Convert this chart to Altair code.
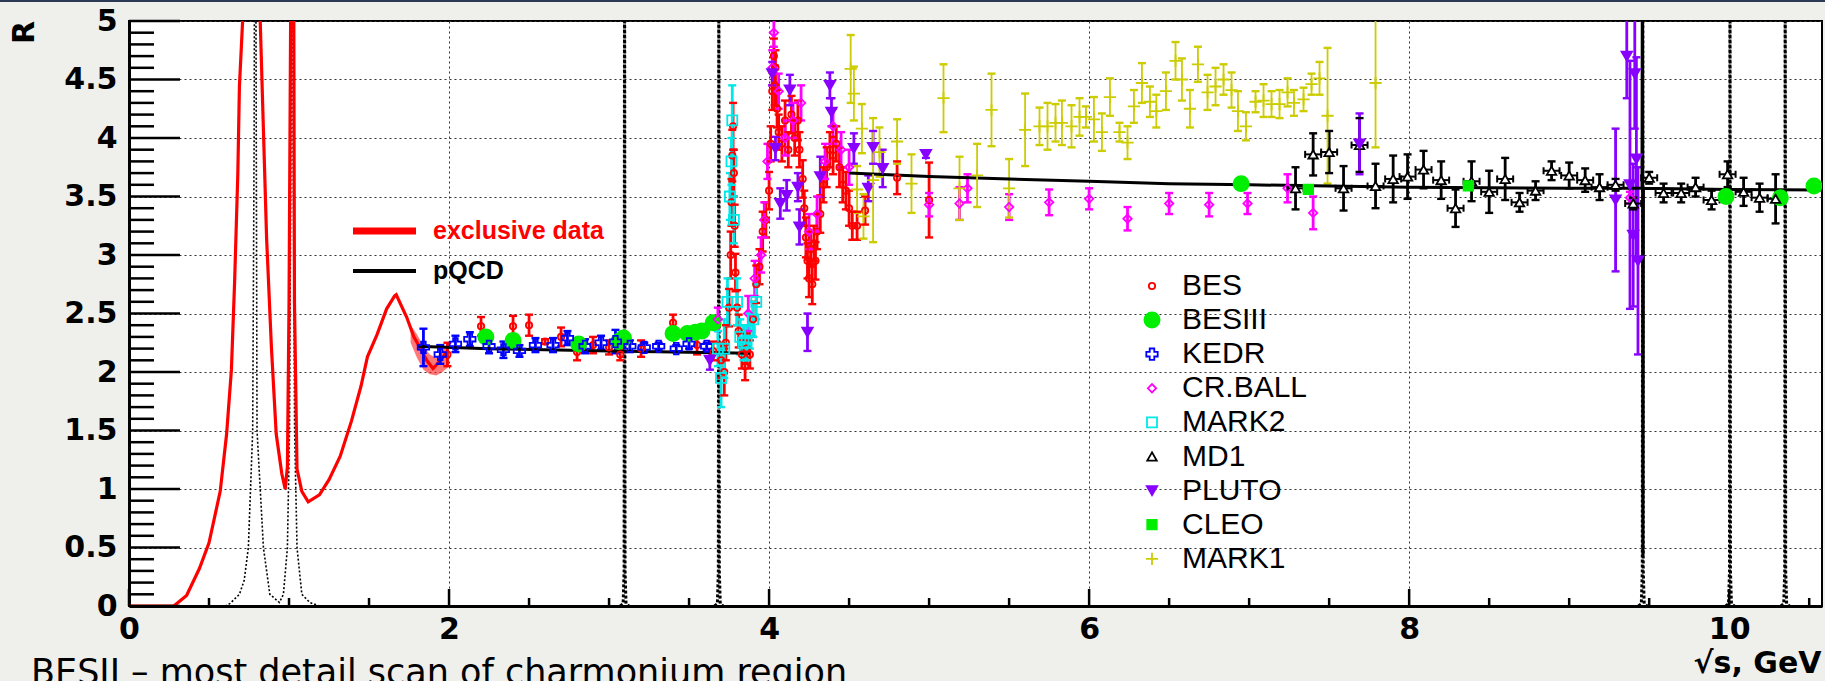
import altair as alt
import pandas as pd

# ---------------- exclusive data curve (red) ----------------
excl_x = [0.00, 0.28, 0.36, 0.44, 0.50, 0.57, 0.61, 0.64, 0.66, 0.68, 0.69, 0.71, 0.74, 0.78, 0.82, 0.84, 0.86, 0.89, 0.92, 0.955,
          0.976, 0.99, 1.00, 1.01, 1.019, 1.03, 1.034, 1.05, 1.08, 1.12, 1.19, 1.25, 1.32, 1.39, 1.45, 1.49, 1.55, 1.61, 1.66, 1.67,
          1.735, 1.78, 1.81, 1.86, 1.90, 1.94, 1.98]
excl_R = [0.00, 0.00, 0.09, 0.32, 0.54, 0.98, 1.47, 2.02, 2.77, 3.69, 4.44, 5.00, 6.50, 7.00, 5.00, 4.07, 3.14, 2.21, 1.47, 1.13,
          1.00, 1.19, 2.58, 5.00, 8.00, 5.00, 2.60, 1.17, 0.98, 0.89, 0.95, 1.08, 1.28, 1.58, 1.88, 2.13, 2.32, 2.54, 2.65, 2.66,
          2.47, 2.30, 2.23, 2.10, 2.03, 2.09, 2.16]
band_x = [1.76, 1.80, 1.84, 1.88, 1.92, 1.96, 2.00]
band_lo = [2.25, 2.12, 2.02, 1.98, 1.97, 2.00, 2.05]
band_hi = [2.40, 2.32, 2.22, 2.15, 2.12, 2.18, 2.25]

# ---------------- resonance curves (black dotted) ----------------
lowmass_x = [0.60, 0.63, 0.69, 0.72, 0.746, 0.773, 0.782, 0.788, 0.800, 0.840, 0.880, 0.940, 0.965, 0.990, 1.003, 1.012,
             1.019, 1.026, 1.035, 1.050, 1.080, 1.130, 1.190]
lowmass_R = [0.00, 0.02, 0.10, 0.22, 0.50, 1.50, 4.00, 8.00, 1.50, 0.50, 0.10, 0.03, 0.10, 0.50, 1.50, 4.00,
             8.00, 4.00, 1.50, 0.50, 0.10, 0.03, 0.00]
jpsi_x = [3.070, 3.088, 3.094, 3.097, 3.100, 3.106, 3.124]
psi2_x = [3.659, 3.677, 3.683, 3.686, 3.689, 3.695, 3.713]
ups1_x = [9.433, 9.451, 9.457, 9.460, 9.463, 9.469, 9.487]
ups2_x = [9.978, 9.996, 10.002, 10.005, 10.008, 10.014, 10.032]
ups3_x = [10.323, 10.341, 10.347, 10.350, 10.353, 10.359, 10.377]
spike_R = [0.00, 0.02, 0.30, 6.00, 0.30, 0.02, 0.00]

# ---------------- pQCD (black solid) ----------------
pq_lo_x = [1.80, 2.20, 2.60, 3.00, 3.40, 3.88]
pq_lo_R = [2.22, 2.20, 2.19, 2.18, 2.17, 2.16]
pq_hi_x = [4.50, 5.00, 5.50, 6.00, 6.50, 7.00, 7.50, 8.00, 8.50, 9.00, 9.455, 9.458, 9.461, 9.464, 10.00, 10.58]
pq_hi_R = [3.70, 3.67, 3.65, 3.63, 3.61, 3.60, 3.59, 3.58, 3.575, 3.57, 3.57, 6.00, 0.43, 3.57, 3.56, 3.555]

# ---------------- experiments ----------------
BES_x = [1.99, 2.20, 2.40, 2.50, 2.60, 2.70, 2.80, 2.90, 3.00, 3.07, 3.20, 3.40, 3.55, 3.65,
         3.70, 3.72, 3.73, 3.75, 3.76, 3.765, 3.77, 3.775, 3.78, 3.785,
         3.79, 3.80, 3.81, 3.83, 3.85, 3.86, 3.88,
         3.90, 3.92, 3.94, 3.96, 3.98, 4.00, 4.01,
         4.02, 4.03, 4.035, 4.04, 4.05, 4.06,
         4.08, 4.10, 4.12, 4.14, 4.16, 4.18, 4.19,
         4.21, 4.22, 4.23,
         4.24, 4.25, 4.26, 4.27, 4.28, 4.29, 4.30,
         4.32, 4.34, 4.36, 4.38, 4.40, 4.42,
         4.44, 4.46, 4.48, 4.50,
         4.52, 4.55, 4.60, 4.80, 5.00]
BES_R = [2.15, 2.39, 2.39, 2.40, 2.26, 2.30, 2.17, 2.23, 2.21, 2.15, 2.20, 2.42, 2.23, 2.18,
         2.10, 2.00, 2.25, 2.55, 3.00, 3.45, 3.85, 4.10, 3.70, 3.25,
         2.85, 2.55, 2.35, 2.15, 2.05, 2.20, 2.15,
         2.45, 2.75, 2.90, 3.20, 3.30, 3.55, 3.95,
         4.40, 4.70, 4.45, 4.60, 4.25, 4.05,
         3.95, 4.15, 3.90, 4.20, 4.00, 4.15, 3.90,
         3.65, 3.40, 3.15,
         2.95, 2.80, 3.05, 2.75, 3.10, 2.95, 3.20,
         3.35, 3.60, 3.75, 3.90, 3.85, 3.95,
         3.75, 3.60, 3.55, 3.40,
         3.25, 3.25, 3.38, 3.66, 3.47]
BES_e = [0.10, 0.08, 0.09, 0.09, 0.02, 0.08, 0.07, 0.07, 0.06, 0.05, 0.07, 0.07, 0.08, 0.08,
         0.15, 0.20, 0.15, 0.16, 0.20, 0.20, 0.22, 0.20, 0.20, 0.18,
         0.16, 0.15, 0.14, 0.12, 0.12, 0.13, 0.12,
         0.15, 0.16, 0.15, 0.17, 0.15, 0.16, 0.15,
         0.16, 0.15, 0.17, 0.15, 0.16, 0.15,
         0.15, 0.17, 0.15, 0.16, 0.15, 0.17, 0.15,
         0.16, 0.15, 0.17,
         0.15, 0.16, 0.15, 0.17, 0.15, 0.16, 0.15,
         0.16, 0.15, 0.17, 0.15, 0.16, 0.15,
         0.17, 0.15, 0.16, 0.15,
         0.12, 0.12, 0.12, 0.14, 0.32]
BESIII_x = [2.23, 2.40, 2.81, 3.06, 3.09, 3.40, 3.49, 3.54, 3.58, 3.65, 6.95, 9.98, 10.32, 10.53]
BESIII_R = [2.30, 2.27, 2.24, 2.26, 2.29, 2.33, 2.33, 2.34, 2.35, 2.42, 3.61, 3.50, 3.49, 3.59]
BESIII_e = [0.00, 0.00, 0.00, 0.00, 0.00, 0.00, 0.00, 0.00, 0.00, 0.00, 0.00, 0.00, 0.00, 0.00]
KEDR_x = [1.84, 1.945, 2.04, 2.13, 2.25, 2.34, 2.44, 2.54, 2.65, 2.74, 2.85, 2.95, 3.04, 3.13, 3.22, 3.31, 3.42, 3.50, 3.61]
KEDR_R = [2.21, 2.15, 2.24, 2.28, 2.22, 2.19, 2.18, 2.23, 2.23, 2.29, 2.22, 2.25, 2.26, 2.22, 2.21, 2.22, 2.20, 2.24, 2.22]
KEDR_e = [0.16, 0.08, 0.07, 0.06, 0.06, 0.07, 0.05, 0.06, 0.06, 0.06, 0.06, 0.06, 0.10, 0.05, 0.04, 0.03, 0.03, 0.04, 0.03]
CRB_x = [3.68, 3.87, 3.91, 3.95, 3.97, 3.99, 4.02, 4.03, 4.06, 4.10, 4.15, 4.20, 4.25, 4.30, 4.35, 4.40, 4.45, 4.50,
         5.00, 5.19, 5.24, 5.50, 5.75, 6.00, 6.24, 6.50, 6.75, 6.99, 7.24, 7.40, 9.38]
CRB_R = [2.45, 2.50, 2.80, 3.00, 3.30, 3.80, 4.60, 4.90, 4.40, 4.00, 4.15, 4.30, 3.20, 3.35, 3.80, 4.10, 3.90, 3.75,
         3.43, 3.44, 3.57, 3.41, 3.45, 3.48, 3.31, 3.44, 3.43, 3.44, 3.57, 3.36, 3.49]
CRB_e = [0.10, 0.15, 0.15, 0.15, 0.15, 0.15, 0.15, 0.12, 0.15, 0.15, 0.15, 0.15, 0.15, 0.15, 0.15, 0.15, 0.15, 0.15,
         0.10, 0.14, 0.12, 0.11, 0.11, 0.09, 0.10, 0.09, 0.10, 0.09, 0.12, 0.14, 0.05]
MARK2_x = [3.68, 3.70, 3.72, 3.74, 3.755, 3.765, 3.77, 3.78, 3.80, 3.82, 3.84, 3.86, 3.88, 3.90, 3.92]
MARK2_R = [2.20, 1.95, 2.20, 2.60, 3.50, 3.80, 4.15, 3.30, 2.60, 2.30, 2.25, 2.25, 2.35, 2.45, 2.60]
MARK2_e = [0.15, 0.25, 0.25, 0.20, 0.20, 0.20, 0.30, 0.20, 0.20, 0.15, 0.15, 0.15, 0.15, 0.15, 0.15]
MD1_x = [7.29, 7.40, 7.50, 7.59, 7.69, 7.79, 7.90, 7.99, 8.09, 8.20, 8.29, 8.39, 8.50, 8.60, 8.69, 8.79, 8.89, 9.00,
         9.10, 9.19, 9.29, 9.40, 9.50, 9.59, 9.70, 9.79, 9.89, 9.99, 10.09, 10.19, 10.29]
MD1_R = [3.57, 3.86, 3.88, 3.57, 3.94, 3.59, 3.65, 3.67, 3.73, 3.64, 3.40, 3.63, 3.54, 3.65, 3.45, 3.55, 3.72, 3.68,
         3.64, 3.58, 3.60, 3.44, 3.66, 3.53, 3.53, 3.58, 3.47, 3.69, 3.54, 3.49, 3.48]
MD1_e = [0.18, 0.18, 0.18, 0.19, 0.23, 0.19, 0.20, 0.19, 0.16, 0.16, 0.16, 0.17, 0.18, 0.18, 0.08, 0.08, 0.08, 0.11,
         0.10, 0.11, 0.05, 0.05, 0.05, 0.08, 0.08, 0.08, 0.08, 0.11, 0.12, 0.12, 0.21]
PLUTO_x = [3.63, 4.02, 4.04, 4.07, 4.11, 4.13, 4.18, 4.19, 4.24, 4.32, 4.38, 4.39, 4.53, 4.62, 4.65, 4.71, 4.98, 7.69,
           9.29, 9.36, 9.38, 9.40, 9.41, 9.42, 9.43]
PLUTO_R = [2.10, 4.55, 3.91, 3.44, 3.51, 4.41, 3.58, 3.24, 2.34, 3.67, 4.45, 4.22, 3.91, 3.57, 3.92, 3.74, 3.86, 3.95,
           3.47, 4.70, 3.60, 3.17, 4.55, 3.82, 2.95]
PLUTO_e = [0.08, 0.10, 0.10, 0.13, 0.13, 0.13, 0.12, 0.15, 0.16, 0.17, 0.11, 0.12, 0.13, 0.11, 0.14, 0.16, 0.03, 0.26,
           0.61, 0.36, 1.06, 0.61, 0.47, 0.87, 0.80]
CLEO_x = [7.37, 8.37]
CLEO_R = [3.56, 3.59]
CLEO_e = [0.00, 0.00]
MARK1_x = [4.51, 4.53, 4.55, 4.58, 4.59, 4.65, 4.69, 4.80, 4.89, 5.09, 5.19, 5.30, 5.39, 5.50,
           5.60, 5.69, 5.74, 5.79, 5.83, 5.89, 5.94, 5.98, 6.03, 6.08, 6.13, 6.19, 6.24, 6.28, 6.33, 6.38, 6.42, 6.48,
           6.54, 6.58, 6.63, 6.68, 6.74, 6.79, 6.84, 6.89, 6.93, 6.98, 7.04, 7.09, 7.14, 7.19, 7.24, 7.28, 7.34, 7.39,
           7.44, 7.49, 7.79]
MARK1_R = [4.59, 4.38, 3.56, 4.08, 3.33, 3.64, 3.88, 3.97, 3.61, 4.34, 3.57, 3.68, 4.24, 3.57,
           4.07, 4.10, 4.10, 4.13, 4.13, 4.10, 4.18, 4.18, 4.16, 4.05, 4.35, 4.05, 3.96, 4.27, 4.47, 4.31, 4.23, 4.40,
           4.66, 4.50, 4.25, 4.63, 4.39, 4.44, 4.50, 4.41, 4.23, 4.10, 4.31, 4.32, 4.29, 4.29, 4.39, 4.30, 4.33, 4.46,
           4.51, 4.19, 4.47]
MARK1_e = [0.29, 0.23, 0.20, 0.21, 0.19, 0.53, 0.21, 0.19, 0.25, 0.29, 0.27, 0.27, 0.31, 0.25,
           0.31, 0.16, 0.20, 0.16, 0.19, 0.18, 0.16, 0.09, 0.19, 0.16, 0.16, 0.08, 0.14, 0.14, 0.17, 0.13, 0.14, 0.16,
           0.16, 0.18, 0.16, 0.15, 0.15, 0.16, 0.13, 0.15, 0.17, 0.12, 0.09, 0.14, 0.11, 0.12, 0.12, 0.11, 0.10, 0.09,
           0.14, 0.58, 0.55]

# ---------------- legend / tick definitions ----------------
EXPS = ['BES', 'BESIII', 'KEDR', 'CR.BALL', 'MARK2', 'MD1', 'PLUTO', 'CLEO', 'MARK1']
PLUS = 'M-1,0H1M0,-1V1'
shape_range = ['circle', 'circle', 'cross', 'diamond', 'square', 'triangle-up', 'triangle-down', 'square', PLUS]
fill_range = ['transparent', '#00ee00', 'transparent', 'transparent', 'transparent', '#ffffff', '#8800ff', '#00ee00', 'transparent']
stroke_range = ['#ff0000', '#00ee00', '#0000ff', '#ff00ff', '#00e8e8', '#000000', '#8800ff', '#00ee00', '#cccc00']
size_range = [40, 230, 130, 70, 100, 90, 110, 90, 150]

yt_major = [0, 0.5, 1, 1.5, 2, 2.5, 3, 3.5, 4, 4.5, 5]
yt_minor = [round(0.1 * i, 1) for i in range(1, 50) if i % 5]
xt_major = [0, 2, 4, 6, 8, 10]
xt_minor = [0.5 * i for i in range(1, 22) if i % 4]

W, H = 1693, 585

# ---------------- tables ----------------
series = {
    'BES': (BES_x, BES_R, BES_e), 'BESIII': (BESIII_x, BESIII_R, BESIII_e), 'KEDR': (KEDR_x, KEDR_R, KEDR_e),
    'CR.BALL': (CRB_x, CRB_R, CRB_e), 'MARK2': (MARK2_x, MARK2_R, MARK2_e), 'MD1': (MD1_x, MD1_R, MD1_e),
    'PLUTO': (PLUTO_x, PLUTO_R, PLUTO_e), 'CLEO': (CLEO_x, CLEO_R, CLEO_e), 'MARK1': (MARK1_x, MARK1_R, MARK1_e),
}
col_of = dict(zip(EXPS, stroke_range))
rows = []
for name, (xs, rs, es) in series.items():
    assert len(xs) == len(rs) == len(es), name
    for a, b, c in zip(xs, rs, es):
        rows.append(dict(exp=name, col=col_of[name], x=a, R=b, e=c))
pts = pd.DataFrame(rows)
pts['lo'] = pts['R'] - pts['e']
pts['hi'] = pts['R'] + pts['e']
pts['xl'] = pts['x'] - 0.025
pts['xr'] = pts['x'] + 0.025
bars = pts[pts['e'] > 0]
caps = pd.concat([bars.assign(yv=bars['lo']), bars.assign(yv=bars['hi'])])
md1 = pts[pts['exp'] == 'MD1'].copy()
md1['xa'] = md1['x'] - 0.05
md1['xb'] = md1['x'] + 0.05
md1_caps = pd.concat([md1.assign(xe=md1['xa']), md1.assign(xe=md1['xb'])])
md1_caps['ya'] = md1_caps['R'] - 0.03
md1_caps['yb'] = md1_caps['R'] + 0.03

res_rows = []
for i, (a, b) in enumerate(zip(lowmass_x, lowmass_R)):
    res_rows.append(dict(name='lowmass', kind='broad', x=a, R=b, i=i))
for nm, xs in [('jpsi', jpsi_x), ('psi2', psi2_x), ('ups1', ups1_x), ('ups2', ups2_x), ('ups3', ups3_x)]:
    for i, (a, b) in enumerate(zip(xs, spike_R)):
        res_rows.append(dict(name=nm, kind='narrow', x=a, R=b, i=i))
res = pd.DataFrame(res_rows)
excl = pd.DataFrame({'x': excl_x, 'R': excl_R, 'i': list(range(len(excl_x)))})
band = pd.DataFrame({'x': band_x, 'lo': band_lo, 'hi': band_hi})
pq = pd.DataFrame(
    [dict(seg='a', x=a, R=b, i=i) for i, (a, b) in enumerate(zip(pq_lo_x, pq_lo_R))] +
    [dict(seg='b', x=a, R=b, i=i) for i, (a, b) in enumerate(zip(pq_hi_x, pq_hi_R))])

# ---------------- scales / axes ----------------
XS = alt.Scale(domain=[0, 10.58], nice=False, zero=False)
YS = alt.Scale(domain=[0, 5], nice=False, zero=False)
FONT = 'DejaVu Sans'
X_AX = alt.Axis(values=xt_major, labelExpr="'' + datum.value", grid=True, gridDash=[2, 3], gridColor='#333333',
                gridWidth=1, ticks=False, domainColor='black', domainWidth=3, labelFont=FONT, labelFontWeight='bold',
                labelFontSize=30, labelColor='black', labelPadding=8, labelFlush=False, labelOverlap=False,
                title='√s, GeV', titleFont=FONT, titleFontWeight='bold', titleFontSize=30, titleColor='black',
                titleX=1628, titleY=57, titleAlign='center', titleBaseline='middle')
Y_AX = alt.Axis(values=yt_major, labelExpr="'' + datum.value", grid=True, gridDash=[2, 3], gridColor='#333333',
                gridWidth=1, ticks=False, domainColor='black', domainWidth=3, labelFont=FONT, labelFontWeight='bold',
                labelFontSize=30, labelColor='black', labelPadding=12, labelFlush=False, labelOverlap=False,
                labelAlign='right', labelBaseline='middle',
                title='R', titleFont=FONT, titleFontWeight='bold', titleFontSize=30, titleColor='black',
                titleX=-105, titleY=11, titleAngle=270, titleAlign='center', titleBaseline='middle')

LEG = alt.Legend(title=None, orient='none', legendX=1008, legendY=250, direction='vertical',
                 labelFont='Liberation Sans', labelFontSize=30, labelColor='black', labelOffset=15,
                 rowPadding=4.1, padding=0, symbolStrokeWidth=1.8, symbolOpacity=1, labelLimit=400)
SHAPE = alt.Scale(domain=EXPS, range=shape_range)
FILL = alt.Scale(domain=EXPS, range=fill_range)
STROKE = alt.Scale(domain=EXPS, range=stroke_range)
SIZE = alt.Scale(type='ordinal', domain=EXPS, range=size_range)


def X(f):
    return alt.X(f, scale=XS, axis=X_AX)


def Y(f):
    return alt.Y(f, scale=YS, axis=Y_AX)


COL = alt.Stroke('col:N', scale=None)

# ---------------- layers ----------------
res_broad = alt.Chart(res).transform_filter("datum.kind == 'broad'").mark_line(
    color='black', strokeDash=[2, 2], strokeWidth=1.6, clip=True).encode(
    x=X('x:Q'), y=Y('R:Q'), detail='name:N', order='i:Q')
res_narrow = alt.Chart(res).transform_filter("datum.kind == 'narrow'").mark_line(
    color='black', strokeDash=[3, 2], strokeWidth=3, clip=True).encode(
    x=X('x:Q'), y=Y('R:Q'), detail='name:N', order='i:Q')
band_l = alt.Chart(band).mark_area(color='#ff2020', opacity=0.6, clip=True).encode(
    x=X('x:Q'), y=Y('lo:Q'), y2='hi:Q')
excl_l = alt.Chart(excl).mark_line(color='#ff0000', strokeWidth=3.2, clip=True).encode(
    x=X('x:Q'), y=Y('R:Q'), order='i:Q')

err_main = alt.Chart(bars).transform_filter("datum.exp != 'MARK1'").mark_rule(strokeWidth=2.8, clip=True).encode(
    x=X('x:Q'), y=Y('lo:Q'), y2='hi:Q', stroke=COL)
err_m1 = alt.Chart(bars).transform_filter("datum.exp == 'MARK1'").mark_rule(strokeWidth=1.8, clip=True).encode(
    x=X('x:Q'), y=Y('lo:Q'), y2='hi:Q', stroke=COL)
caps_l = alt.Chart(caps).mark_rule(strokeWidth=2.4, clip=True).encode(
    x=X('xl:Q'), x2='xr:Q', y=Y('yv:Q'), stroke=COL)
md1_h = alt.Chart(md1).mark_rule(color='black', strokeWidth=2, clip=True).encode(
    x=X('xa:Q'), x2='xb:Q', y=Y('R:Q'))
md1_c = alt.Chart(md1_caps).mark_rule(color='black', strokeWidth=2, clip=True).encode(
    x=X('xe:Q'), y=Y('ya:Q'), y2='yb:Q')
pq_l = alt.Chart(pq).mark_line(color='black', strokeWidth=3, clip=True).encode(
    x=X('x:Q'), y=Y('R:Q'), detail='seg:N', order='i:Q')
pts_l = alt.Chart(pts).mark_point(opacity=1, strokeWidth=1.8, clip=True).encode(
    x=X('x:Q'), y=Y('R:Q'),
    shape=alt.Shape('exp:N', scale=SHAPE, legend=LEG),
    fill=alt.Fill('exp:N', scale=FILL, legend=LEG),
    stroke=alt.Stroke('exp:N', scale=STROKE, legend=LEG),
    size=alt.Size('exp:N', scale=SIZE, legend=LEG))

# inner ticks (ROOT style)
yt1 = alt.Chart(pd.DataFrame({'v': yt_major})).mark_rule(color='black', strokeWidth=2.5).encode(
    y=Y('v:Q'), x=alt.value(0), x2=alt.value(51))
yt2 = alt.Chart(pd.DataFrame({'v': yt_minor})).mark_rule(color='black', strokeWidth=2.5).encode(
    y=Y('v:Q'), x=alt.value(0), x2=alt.value(25))
xt1 = alt.Chart(pd.DataFrame({'v': xt_major})).mark_rule(color='black', strokeWidth=2.5).encode(
    x=X('v:Q'), y=alt.value(H), y2=alt.value(H - 17))
xt2 = alt.Chart(pd.DataFrame({'v': xt_minor})).mark_rule(color='black', strokeWidth=2.5).encode(
    x=X('v:Q'), y=alt.value(H), y2=alt.value(H - 8))

one = pd.DataFrame({'k': [0]})
top_line = alt.Chart(one).mark_rule(color='#2c3a55', strokeWidth=2).encode(
    x=alt.value(-129), x2=alt.value(W + 3), y=alt.value(-20))
leg_red = alt.Chart(one).mark_rule(color='#ff0000', strokeWidth=7).encode(
    x=alt.value(224), x2=alt.value(287), y=alt.value(210))
leg_blk = alt.Chart(one).mark_rule(color='black', strokeWidth=4).encode(
    x=alt.value(224), x2=alt.value(287), y=alt.value(250))
leg_red_t = alt.Chart(one).mark_text(text='exclusive data', color='#ff0000', font='Liberation Sans',
                                     fontWeight='bold', fontSize=25, align='left', baseline='middle').encode(
    x=alt.value(304), y=alt.value(210))
leg_blk_t = alt.Chart(one).mark_text(text='pQCD', color='black', font='Liberation Sans',
                                     fontWeight='bold', fontSize=25, align='left', baseline='middle').encode(
    x=alt.value(304), y=alt.value(250))
caption = alt.Chart(one).mark_text(text='BESII – most detail scan of charmonium region', color='black',
                                   font='DejaVu Sans', fontSize=35, align='left', baseline='alphabetic').encode(
    x=alt.value(-98), y=alt.value(663))

chart = alt.layer(
    res_broad, res_narrow, band_l, excl_l, err_main, err_m1, caps_l, md1_h, md1_c, pq_l, pts_l,
    yt1, yt2, xt1, xt2, top_line, leg_red, leg_blk, leg_red_t, leg_blk_t, caption
).properties(
    width=W, height=H,
    padding={'left': 129, 'top': 21, 'right': 3, 'bottom': 75},
    autosize=alt.AutoSizeParams(type='none'),
    background='#efefec'
).configure_view(stroke='black', strokeWidth=2, fill='white')

chart.save('out.html', embed_options={'renderer': 'svg', 'actions': False})
